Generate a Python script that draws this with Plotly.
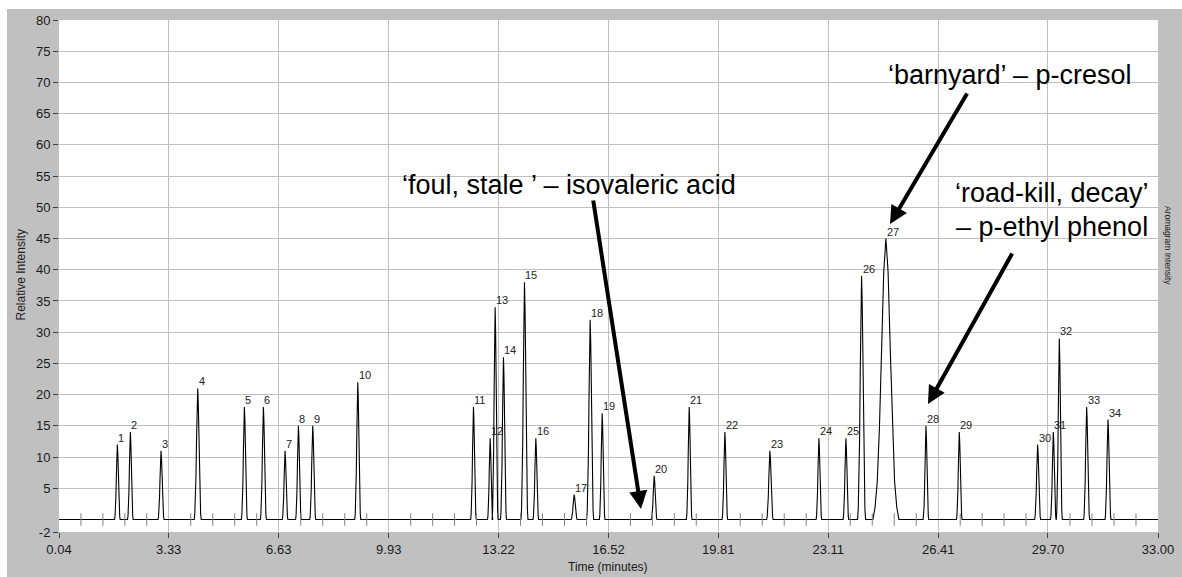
import plotly.graph_objects as go

# ---------------- data ----------------
peak_ids = [str(i) for i in range(1, 35)]
peak_times = [1.79, 2.18, 3.10, 4.20, 5.60, 6.17, 6.82, 7.22, 7.65, 9.00,
              12.47, 12.97, 13.12, 13.37, 14.00, 14.34, 15.49, 15.97, 16.33, 17.89,
              18.94, 20.01, 21.36, 22.83, 23.64, 24.11, 24.84, 26.04, 27.04, 29.39,
              29.86, 30.04, 30.86, 31.50]
peak_heights = [12, 14, 11, 21, 18, 18, 11, 15, 15, 22,
                18, 13, 34, 26, 38, 13, 4, 32, 17, 7,
                18, 14, 11, 13, 13, 39, 45, 15, 14, 12,
                14, 29, 18, 16]
peak_widths = [0.028, 0.028, 0.03, 0.035, 0.03, 0.03, 0.028, 0.028, 0.03, 0.03,
               0.028, 0.026, 0.03, 0.03, 0.035, 0.028, 0.03, 0.035, 0.028, 0.028,
               0.028, 0.028, 0.032, 0.028, 0.028, 0.04, 0.13, 0.028, 0.028, 0.03,
               0.028, 0.03, 0.03, 0.03]
x_tick_vals = [0.04, 3.33, 6.63, 9.93, 13.22, 16.52, 19.81, 23.11, 26.41, 29.70, 33.00]
x_tick_text = ["0.04", "3.33", "6.63", "9.93", "13.22", "16.52", "19.81", "23.11", "26.41", "29.70", "33.00"]
y_tick_vals = [-2, 5, 10, 15, 20, 25, 30, 35, 40, 45, 50, 55, 60, 65, 70, 75, 80]
y_tick_text = [str(v) for v in y_tick_vals]

# normalised peak profile (shape template, in units of peak width)
PROFILE_OFF = [-3, -2.5, -2, -1.5, -1, -0.5, 0, 0.5, 1, 1.5, 2, 2.5, 3]
PROFILE_REL = [0.0, 0.044, 0.135, 0.325, 0.607, 0.882, 1.0, 0.882, 0.607, 0.325, 0.135, 0.044, 0.0]

# ---------------- build the trace ----------------
xs = [x_tick_vals[0]]
ys = [0.0]
for t, h, w in zip(peak_times, peak_heights, peak_widths):
    for o, r in zip(PROFILE_OFF, PROFILE_REL):
        xs.append(t + o * w)
        ys.append(h * r)
xs.append(x_tick_vals[-1])
ys.append(0.0)

FONT = "Liberation Sans, Arial, sans-serif"
GRAY = "#c0c0c0"

# plot box in pixels (for placing free annotations)
W, H = 1182, 577
L, R, T, B = 59, 1158, 20, 532


def px(x):
    return (x - L) / (R - L)


def py(y):
    return (B - y) / (B - T)


fig = go.Figure()
fig.add_trace(go.Scatter(x=xs, y=ys, mode="lines",
                         line=dict(color="#000000", width=1.1),
                         hoverinfo="skip", showlegend=False))

annotations = []
# peak number labels
for pid, t, h in zip(peak_ids, peak_times, peak_heights):
    annotations.append(dict(x=t, y=h, xref="x", yref="y", text=pid, showarrow=False,
                            xanchor="left", yanchor="bottom", xshift=-1, yshift=-1,
                            font=dict(family=FONT, size=11, color="#222222")))

big = dict(family=FONT, size=27, color="#000000")
annotations += [
    dict(x=px(569), y=py(185), xref="paper", yref="paper", showarrow=False,
         text="\u2018foul, stale \u2019 \u2013 isovaleric acid", font=big,
         xanchor="center", yanchor="middle"),
    dict(x=px(1009.5), y=py(74.5), xref="paper", yref="paper", showarrow=False,
         text="\u2018barnyard\u2019 \u2013 p-cresol", font=big,
         xanchor="center", yanchor="middle"),
    dict(x=px(1051.5), y=py(193), xref="paper", yref="paper", showarrow=False,
         text="\u2018road-kill, decay\u2019", font=big,
         xanchor="center", yanchor="middle"),
    dict(x=px(1051.5), y=py(226.5), xref="paper", yref="paper", showarrow=False,
         text="\u2013 p-ethyl phenol", font=big,
         xanchor="center", yanchor="middle"),
]
# arrows (tip, tail in pixels)
for (tx, ty), (sx, sy) in [((641, 509), (593, 199)),
                           ((890, 224), (968, 92)),
                           ((928, 404), (1013, 252))]:
    annotations.append(dict(x=px(tx), y=py(ty), xref="paper", yref="paper",
                            ax=sx - tx, ay=sy - ty, axref="pixel", ayref="pixel",
                            text="", showarrow=True, arrowhead=2, arrowsize=0.9,
                            arrowwidth=4, arrowcolor="#000000", standoff=0))
# axis titles
annotations += [
    dict(x=px(20.5), y=py(275), xref="paper", yref="paper", showarrow=False,
         text="Relative Intensity", textangle=-90, xanchor="center", yanchor="middle",
         font=dict(family=FONT, size=12, color="#1a1a1a")),
    dict(x=px(1168.5), y=py(245.5), xref="paper", yref="paper", showarrow=False,
         text="Aromagram Intensity", textangle=90, xanchor="center", yanchor="middle",
         font=dict(family=FONT, size=8.5, color="#1a1a1a")),
    dict(x=px(608), y=py(566.5), xref="paper", yref="paper", showarrow=False,
         text="Time (minutes)", xanchor="center", yanchor="middle",
         font=dict(family=FONT, size=12, color="#1a1a1a")),
]

shapes = []
# minor ticks drawn across the baseline
for a, b in zip(x_tick_vals[:-1], x_tick_vals[1:]):
    for k in range(1, 5):
        t = a + k * (b - a) / 5
        shapes.append(dict(type="line", xref="x", yref="y", x0=t, x1=t, y0=-1, y1=1,
                           line=dict(color="#7f7f7f", width=1), layer="above"))
# white frame strips outside the gray panel
shapes.append(dict(type="rect", xref="paper", yref="paper",
                   x0=px(-5), x1=px(7), y0=py(600), y1=py(-5),
                   fillcolor="white", line=dict(width=0), layer="below"))
shapes.append(dict(type="rect", xref="paper", yref="paper",
                   x0=px(-5), x1=px(1200), y0=py(9), y1=py(-5),
                   fillcolor="white", line=dict(width=0), layer="below"))

fig.update_layout(
    width=W, height=H,
    margin=dict(l=L, r=W - R, t=T, b=H - B, pad=0, autoexpand=False),
    paper_bgcolor=GRAY, plot_bgcolor="white",
    font=dict(family=FONT, size=13, color="#1a1a1a"),
    showlegend=False,
    annotations=annotations,
    shapes=shapes,
    xaxis=dict(range=[x_tick_vals[0], x_tick_vals[-1]], tickmode="array",
               tickvals=x_tick_vals, ticktext=x_tick_text, automargin=False,
               showgrid=True, gridcolor=GRAY, gridwidth=1,
               ticks="outside", ticklen=5, tickcolor="#404040",
               zeroline=False, showline=False,
               tickfont=dict(family=FONT, size=13, color="#1a1a1a")),
    yaxis=dict(range=[-2, 80], tickmode="array",
               tickvals=y_tick_vals, ticktext=y_tick_text, automargin=False,
               showgrid=True, gridcolor=GRAY, gridwidth=1,
               ticks="outside", ticklen=5, tickcolor="#404040",
               zeroline=False, showline=False,
               tickfont=dict(family=FONT, size=13, color="#1a1a1a")),
)

fig.write_html("out.html", config={"displayModeBar": False},
               post_script="document.body.style.margin='0px';"
                           "document.body.style.overflow='hidden';")
